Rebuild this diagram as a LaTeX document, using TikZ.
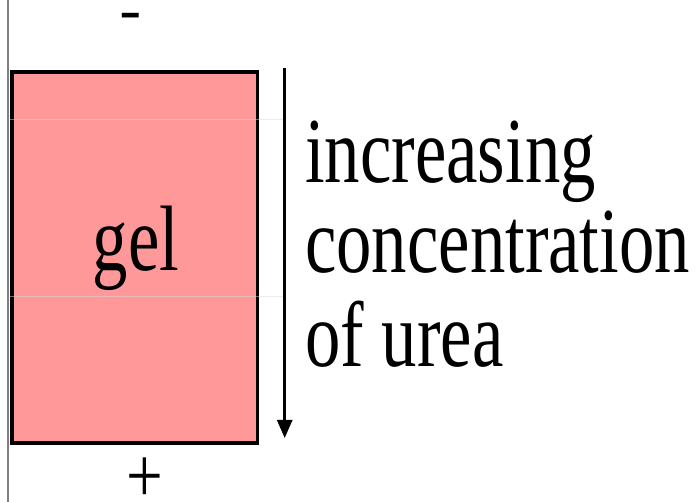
\documentclass[tikz,border=0pt]{standalone}
\usepackage{fontspec}
\setmainfont{Liberation Serif}
\usetikzlibrary{arrows.meta}
\definecolor{gelpink}{HTML}{FF9999}
\tikzset{
  bigtext/.style={inner sep=0pt, font=\fontsize{93}{93}\selectfont},
  faint/.style={draw=white!85!black, opacity=0.5, line width=1pt},
}
\newcommand{\narrow}[1]{\scalebox{0.76}[1]{#1}}
\begin{document}
\begin{tikzpicture}[x=1pt,y=-1pt]
\useasboundingbox (0,0) rectangle (699,502);
\clip (0,0) rectangle (699,502);
% left edge line
\coordinate (ltop) at (8,0);
\coordinate (lbot) at (8,502);
\draw[gray, line width=1.8pt] (ltop) -- (lbot);
% gel rectangle
\node[draw=black, fill=gelpink, line width=3.6pt, minimum width=245.5pt, minimum height=371pt, inner sep=0pt, anchor=north west] (gel) at (10,70) {};
\node[bigtext, anchor=base] (geltext) at (136,270.7) {\narrow{gel}};
% faint lines
\coordinate (f1a) at (10,120); \coordinate (f1b) at (284,120);
\coordinate (f2a) at (10,297); \coordinate (f2b) at (284,297);
\draw[faint] (f1a) -- (f1b);
\draw[faint] (f2a) -- (f2b);
% arrow
\coordinate (atop) at (284.7,68);
\coordinate (abot) at (284.7,438);
\draw[line width=2.7pt, -{Triangle[width=15pt,length=18pt]}] (atop) -- (abot);
% labels
\node[bigtext, anchor=base west] (l1) at (305,182.7) {\narrow{increasing}};
\node[bigtext, anchor=base west] (l2) at (305,272.7) {\narrow{concentration}};
\node[bigtext, anchor=base west] (l3) at (305,366.7) {\narrow{of urea}};
\node[bigtext, anchor=base] (minus) at (131,47) {\scalebox{0.39}[1]{−}};
\node[bigtext, anchor=base] (plus) at (144.5,502) {\scalebox{0.7}[0.85]{+}};
\end{tikzpicture}
\end{document}
